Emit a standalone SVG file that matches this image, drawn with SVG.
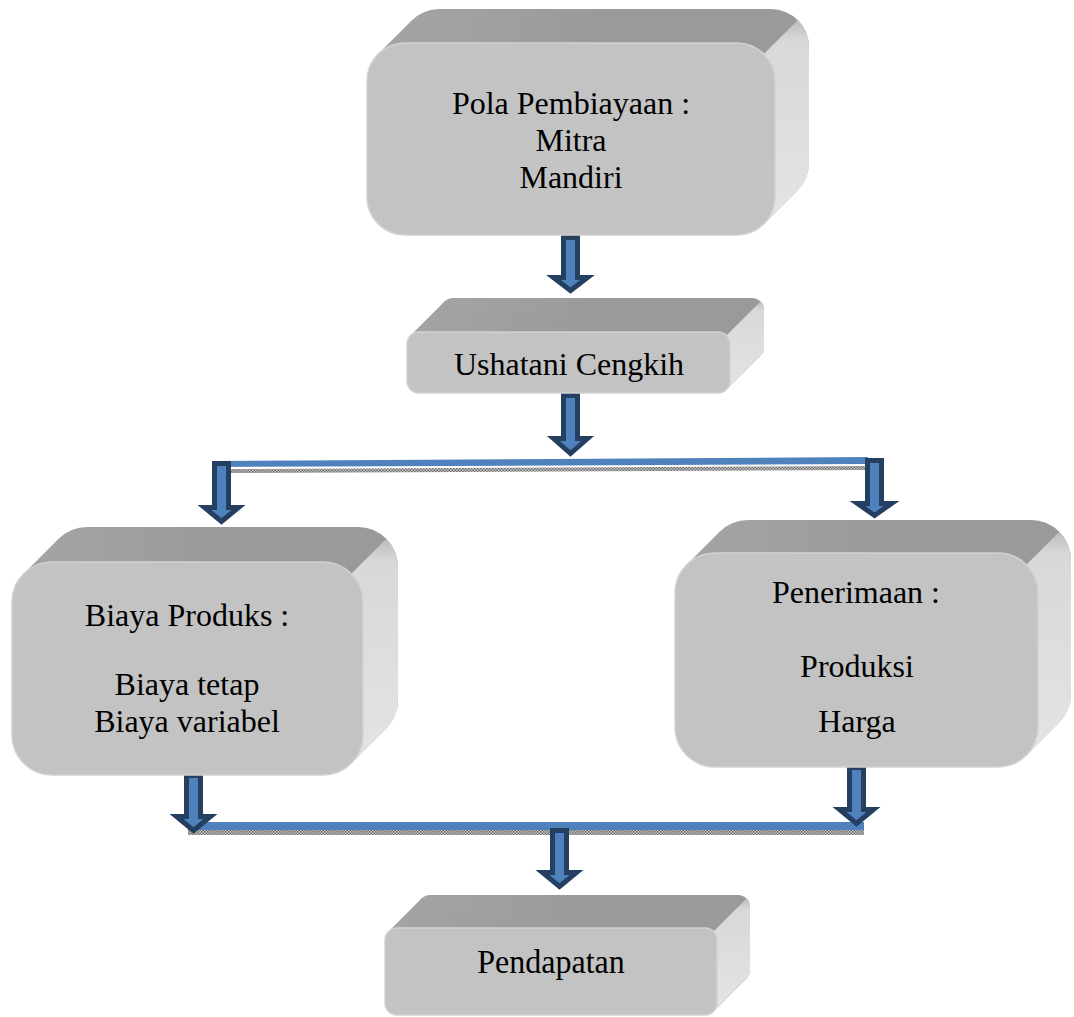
<svg xmlns="http://www.w3.org/2000/svg" width="1074" height="1017" viewBox="0 0 1074 1017">
<defs>
<linearGradient id="side" x1="0" y1="0" x2="0" y2="1">
<stop offset="0" stop-color="#bdbdbd"/>
<stop offset="0.1" stop-color="#d8d8d8"/>
<stop offset="1" stop-color="#e4e4e4"/>
</linearGradient>
<linearGradient id="top" x1="0" y1="0" x2="1" y2="0">
<stop offset="0" stop-color="#a4a4a4"/>
<stop offset="0.5" stop-color="#9a9a9a"/>
<stop offset="1" stop-color="#9a9a9a"/>
</linearGradient>
<pattern id="hatch" width="3" height="3" patternUnits="userSpaceOnUse">
<rect width="3" height="3" fill="#c8c8c8"/>
<rect width="1.5" height="1.5" fill="#6a6a6a"/>
<rect x="1.5" y="1.5" width="1.5" height="1.5" fill="#6a6a6a"/>
</pattern>
</defs>
<style>
.tp{fill:url(#top);}
.sd{fill:url(#side);}
.fr{fill:#c3c3c3;stroke:#d2d2d2;stroke-width:1.5;}
.t{font-family:"Liberation Serif","Times New Roman",serif;font-size:32px;fill:#000;text-anchor:middle;}
.ar{fill:#4f81bd;stroke:#243f60;stroke-width:5;stroke-linejoin:miter;}
.bar{fill:#4f81bd;}
.sh{fill:url(#hatch);}
</style>
<rect width="1074" height="1017" fill="#fff"/>

<g id="connectors">
<polygon class="sh" points="230,469 865,466 865,470 230,473"/>
<polygon class="bar" points="212,461 868,457 868,464 212,467"/>
<rect class="sh" x="188" y="830" width="676" height="5"/>
<rect class="bar" x="188" y="822" width="676" height="8"/>
<path class="ar" d="M563.5,237.5 H577.5 V277.5 H587.5 L570.5,290.5 L553.5,277.5 H563.5 Z"/>
<path class="ar" d="M563.5,395.5 H577.5 V438.5 H587.5 L570.5,453.5 L553.5,438.5 H563.5 Z"/>
<path class="ar" d="M214.5,463.5 H228.5 V507.5 H238.5 L221.5,521.5 L204.5,507.5 H214.5 Z"/>
<path class="ar" d="M867.5,460.5 H881.5 V503.5 H891.5 L874.5,515.5 L857.5,503.5 H867.5 Z"/>
<path class="ar" d="M186.5,775.5 H200.5 V816.5 H210.5 L193.5,830.5 L176.5,816.5 H186.5 Z"/>
<path class="ar" d="M849.5,767.5 H863.5 V809.5 H873.5 L856.5,823.5 L839.5,809.5 H849.5 Z"/>
<path class="ar" d="M552.5,830.5 H566.5 V872.5 H576.5 L559.5,886.5 L542.5,872.5 H552.5 Z"/>
</g>

<g id="pola-pembiayaan">
<rect class="tp" x="401" y="9" width="408" height="192" rx="38"/>
<polygon class="tp" points="378.1,54.1 412.1,20.1 797.9,189.9 763.9,223.9"/>
<path class="sd" d="M763.9,54.1 L797.9,20.1 A38,38 0 0 1 809,47 L809,163 A38,38 0 0 1 797.9,189.9 L763.9,223.9 Z"/>
<rect class="fr" x="367" y="43" width="408" height="192" rx="38"/>
<text class="t" x="571" y="114">Pola Pembiayaan :</text>
<text class="t" x="571" y="151">Mitra</text>
<text class="t" x="571" y="188">Mandiri</text>
</g>

<g id="ushatani-cengkih">
<rect class="tp" x="441" y="298" width="323" height="61" rx="12"/>
<polygon class="tp" points="410.5,335.5 444.5,301.5 760.5,355.5 726.5,389.5"/>
<path class="sd" d="M726.5,335.5 L760.5,301.5 A12,12 0 0 1 764,310 L764,347 A12,12 0 0 1 760.5,355.5 L726.5,389.5 Z"/>
<rect class="fr" x="407" y="332" width="323" height="61" rx="12"/>
<text class="t" x="569" y="375">Ushatani Cengkih</text>
</g>

<g id="biaya-produks">
<rect class="tp" x="47" y="527" width="351" height="213" rx="40"/>
<polygon class="tp" points="23.7,573.7 58.7,538.7 386.3,728.3 351.3,763.3"/>
<path class="sd" d="M351.3,573.7 L386.3,538.7 A40,40 0 0 1 398,567 L398,700 A40,40 0 0 1 386.3,728.3 L351.3,763.3 Z"/>
<rect class="fr" x="12" y="562" width="351" height="213" rx="40"/>
<text class="t" x="187" y="626">Biaya Produks :</text>
<text class="t" x="187" y="695">Biaya tetap</text>
<text class="t" x="187" y="732">Biaya variabel</text>
</g>

<g id="penerimaan">
<rect class="tp" x="708" y="520" width="363" height="214" rx="40"/>
<polygon class="tp" points="686.7,564.7 719.7,531.7 1059.3,722.3 1026.3,755.3"/>
<path class="sd" d="M1026.3,564.7 L1059.3,531.7 A40,40 0 0 1 1071,560 L1071,694 A40,40 0 0 1 1059.3,722.3 L1026.3,755.3 Z"/>
<rect class="fr" x="675" y="553" width="363" height="214" rx="40"/>
<text class="t" x="856" y="603">Penerimaan :</text>
<text class="t" x="857" y="677">Produksi</text>
<text class="t" x="857" y="732">Harga</text>
</g>

<g id="pendapatan">
<rect class="tp" x="418" y="895" width="332" height="87" rx="12"/>
<polygon class="tp" points="388.5,931.5 421.5,898.5 746.5,978.5 713.5,1011.5"/>
<path class="sd" d="M713.5,931.5 L746.5,898.5 A12,12 0 0 1 750,907 L750,970 A12,12 0 0 1 746.5,978.5 L713.5,1011.5 Z"/>
<rect class="fr" x="385" y="928" width="332" height="87" rx="12"/>
<text class="t" transform="translate(551 973) scale(1 1.08)">Pendapatan</text>
</g>
</svg>
